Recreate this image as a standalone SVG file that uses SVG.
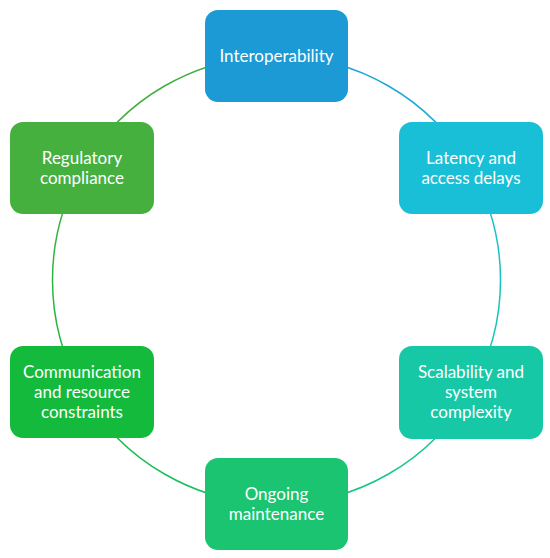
<svg xmlns="http://www.w3.org/2000/svg" width="550" height="558" viewBox="0 0 550 558">
<style>
.lbl{font-family:Lato,"Open Sans","Liberation Sans",sans-serif;font-size:17px;fill:#ffffff;text-anchor:middle}
.arc{fill:none;stroke-width:1.5}
</style>
<defs>
<linearGradient id="g1" gradientUnits="userSpaceOnUse" x1="276.5" y1="56" x2="470.5" y2="168"><stop offset="0" stop-color="#1C9AD6"/><stop offset="1" stop-color="#19B5D6"/></linearGradient>
<linearGradient id="g2" gradientUnits="userSpaceOnUse" x1="470.5" y1="168" x2="470.5" y2="392"><stop offset="0" stop-color="#19BFD6"/><stop offset="1" stop-color="#17C8A6"/></linearGradient>
<linearGradient id="g3" gradientUnits="userSpaceOnUse" x1="470.5" y1="392" x2="276.5" y2="504"><stop offset="0" stop-color="#17C8A6"/><stop offset="1" stop-color="#1AC470"/></linearGradient>
<linearGradient id="g4" gradientUnits="userSpaceOnUse" x1="276.5" y1="504" x2="82.5" y2="392"><stop offset="0" stop-color="#1AC470"/><stop offset="1" stop-color="#14BA3C"/></linearGradient>
<linearGradient id="g5" gradientUnits="userSpaceOnUse" x1="82.5" y1="392" x2="82.5" y2="168"><stop offset="0" stop-color="#14BA3C"/><stop offset="1" stop-color="#46B03F"/></linearGradient>
<linearGradient id="g6" gradientUnits="userSpaceOnUse" x1="82.5" y1="168" x2="276.5" y2="56"><stop offset="0" stop-color="#46B03F"/><stop offset="1" stop-color="#38B040"/></linearGradient>
</defs>
<g id="connectors">
<path class="arc" stroke="url(#g1)" d="M276.5,56 A224,224 0 0 1 470.5,168"/>
<path class="arc" stroke="url(#g2)" d="M470.5,168 A224,224 0 0 1 470.5,392"/>
<path class="arc" stroke="url(#g3)" d="M470.5,392 A224,224 0 0 1 276.5,504"/>
<path class="arc" stroke="url(#g4)" d="M276.5,504 A224,224 0 0 1 82.5,392"/>
<path class="arc" stroke="url(#g5)" d="M82.5,392 A224,224 0 0 1 82.5,168"/>
<path class="arc" stroke="url(#g6)" d="M82.5,168 A224,224 0 0 1 276.5,56"/>
</g>
<g id="interoperability">
<rect x="205" y="10" width="143" height="92" rx="13" fill="#1C9AD6"/>
<text class="lbl" x="276.5" y="62">Interoperability</text>
</g>
<g id="latency">
<rect x="399" y="122" width="144" height="92" rx="13" fill="#19BFD6"/>
<text class="lbl" x="471" y="164">Latency and</text>
<text class="lbl" x="471" y="184">access delays</text>
</g>
<g id="scalability">
<rect x="399" y="346" width="144" height="93" rx="13" fill="#17C8A6"/>
<text class="lbl" x="471" y="378">Scalability and</text>
<text class="lbl" x="471" y="398">system</text>
<text class="lbl" x="471" y="418">complexity</text>
</g>
<g id="ongoing">
<rect x="205" y="458" width="143" height="92" rx="13" fill="#1AC470"/>
<text class="lbl" x="276.5" y="500">Ongoing</text>
<text class="lbl" x="276.5" y="520">maintenance</text>
</g>
<g id="communication">
<rect x="10" y="346" width="144" height="92" rx="13" fill="#14BA3C"/>
<text class="lbl" x="82" y="378">Communication</text>
<text class="lbl" x="82" y="398">and resource</text>
<text class="lbl" x="82" y="418">constraints</text>
</g>
<g id="regulatory">
<rect x="10" y="122" width="144" height="92" rx="13" fill="#46B03F"/>
<text class="lbl" x="82" y="164">Regulatory</text>
<text class="lbl" x="82" y="184">compliance</text>
</g>
</svg>
